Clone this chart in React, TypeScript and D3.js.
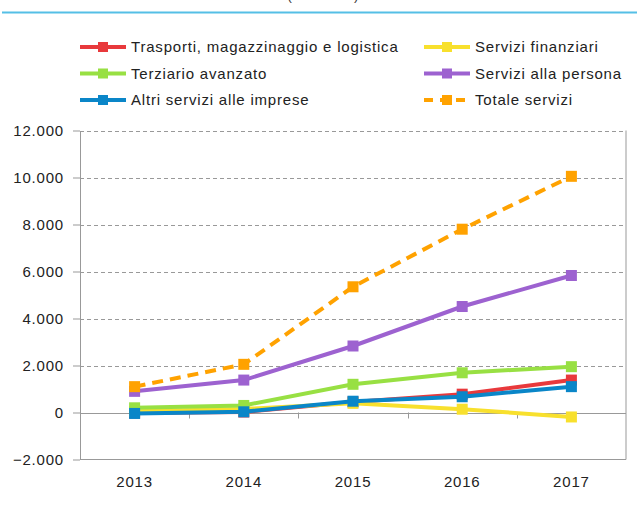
import React, { useEffect, useRef } from 'react';
import * as d3 from 'd3';

// categorie e serie
const anni = ['2013', '2014', '2015', '2016', '2017'];
const trasporti = [-20, 20, 450, 780, 1380];
const finanziari = [50, 150, 390, 140, -190];
const terziario = [200, 300, 1200, 1690, 1950];
const persona = [900, 1380, 2830, 4510, 5830];
const altri = [-40, 30, 480, 670, 1100];
const totale = [1100, 2050, 5350, 7800, 10050];
const yTicks = [-2000, 0, 2000, 4000, 6000, 8000, 10000, 12000];

const serie = [
  { nome: 'Trasporti, magazzinaggio e logistica', valori: trasporti, colore: '#e8393c', dash: null },
  { nome: 'Servizi finanziari', valori: finanziari, colore: '#f8e02d', dash: null },
  { nome: 'Terziario avanzato', valori: terziario, colore: '#98e043', dash: null },
  { nome: 'Servizi alla persona', valori: persona, colore: '#9d62d0', dash: null },
  { nome: 'Altri servizi alle imprese', valori: altri, colore: '#0a86c8', dash: null },
  { nome: 'Totale servizi', valori: totale, colore: '#ffa200', dash: '11,7' },
];

const font = '"Liberation Sans", Arial, sans-serif';
const spacing = '0.8px';

const App = () => {
  const svgRef = useRef<SVGSVGElement>(null);

  useEffect(() => {
    const svg = d3.select(svgRef.current);
    svg.selectAll('*').remove();

    const left = 80, right = 626, top = 130.5, bottom = 459.5;

    const x = d3.scaleBand().domain(anni).range([left, right]);
    const y = d3.scaleLinear().domain([-2000, 12000]).range([bottom, top]);
    const fmt = (v: number) => d3.format(',')(v).replace(/,/g, '.');

    // linea del titolo (testo tagliato in alto come nell'originale)
    svg.append('text')
      .attr('x', 323).attr('y', 0)
      .attr('text-anchor', 'middle')
      .style('font-family', font).style('font-size', '13px').style('fill', '#333')
      .text('(2013-2017)');
    svg.append('line')
      .attr('x1', 2).attr('x2', 637).attr('y1', 12.5).attr('y2', 12.5)
      .attr('stroke', '#55bfe6').attr('stroke-width', 2);

    // griglia
    svg.selectAll('.grid')
      .data(yTicks.filter(d => d > 0))
      .enter().append('line')
      .attr('x1', left).attr('x2', right)
      .attr('y1', d => Math.round(y(d)) + 0.5).attr('y2', d => Math.round(y(d)) + 0.5)
      .attr('stroke', '#999').attr('stroke-dasharray', '4,3');

    // cornice
    svg.append('line').attr('x1', left).attr('x2', right)
      .attr('y1', bottom).attr('y2', bottom).attr('stroke', '#999');
    svg.append('line').attr('x1', right).attr('x2', right)
      .attr('y1', top).attr('y2', bottom).attr('stroke', '#999');
    svg.append('line').attr('x1', left).attr('x2', right)
      .attr('y1', Math.round(y(0)) + 0.5).attr('y2', Math.round(y(0)) + 0.5).attr('stroke', '#999');

    // asse y
    const ay = svg.append('g')
      .attr('transform', `translate(${left},0)`)
      .call(d3.axisLeft(y).tickValues(yTicks).tickSize(7).tickSizeOuter(0).tickPadding(9).tickFormat(d => fmt(+d)));
    ay.select('.domain').attr('stroke', '#999');
    ay.selectAll('.tick line').attr('stroke', '#999');
    ay.selectAll('text')
      .style('font-family', font).style('font-size', '15px').style('letter-spacing', spacing)
      .attr('fill', '#222');

    // tacche asse x
    svg.selectAll('.xtick')
      .data(anni.slice(1))
      .enter().append('line')
      .attr('x1', d => Math.round(x(d)!) + 0.5).attr('x2', d => Math.round(x(d)!) + 0.5)
      .attr('y1', y(0)).attr('y2', y(0) + 6)
      .attr('stroke', '#999');

    svg.selectAll('.xlab')
      .data(anni)
      .enter().append('text')
      .attr('x', d => x(d)! + x.bandwidth() / 2)
      .attr('y', 487)
      .attr('text-anchor', 'middle')
      .style('font-family', font).style('font-size', '15px').style('letter-spacing', spacing)
      .attr('fill', '#222')
      .text(d => d);

    // linee
    const line = d3.line<number>()
      .x((_, i) => x(anni[i])! + x.bandwidth() / 2)
      .y(d => y(d));

    serie.forEach(s => {
      svg.append('path')
        .datum(s.valori)
        .attr('d', line)
        .attr('fill', 'none')
        .attr('stroke', s.colore)
        .attr('stroke-width', 4)
        .attr('stroke-dasharray', s.dash);
      svg.selectAll(null)
        .data(s.valori)
        .enter().append('rect')
        .attr('x', (_, i) => x(anni[i])! + x.bandwidth() / 2 - 5.5)
        .attr('y', d => y(d) - 5.5)
        .attr('width', 11).attr('height', 11)
        .attr('fill', s.colore);
    });

    // legenda
    const colX = [80, 424];
    const rowY = [47, 73.5, 100];
    serie.forEach((s, i) => {
      const lx = colX[i % 2];
      const ly = rowY[Math.floor(i / 2)];
      const g = svg.append('g');
      g.append('line')
        .attr('x1', lx).attr('x2', lx + 46).attr('y1', ly).attr('y2', ly)
        .attr('stroke', s.colore).attr('stroke-width', 4)
        .attr('stroke-dasharray', s.dash ? '9,7' : null);
      g.append('rect')
        .attr('x', lx + 18).attr('y', ly - 5).attr('width', 10).attr('height', 10)
        .attr('fill', s.colore);
      g.append('text')
        .attr('x', lx + 51).attr('y', ly + 5)
        .style('font-family', font).style('font-size', '15px').style('letter-spacing', spacing)
        .attr('fill', '#222')
        .text(s.nome);
    });
  }, []);

  return <svg ref={svgRef} width={637} height={509} style={{ position: 'absolute', left: 0, top: 0 }} />;
};

export default App;
